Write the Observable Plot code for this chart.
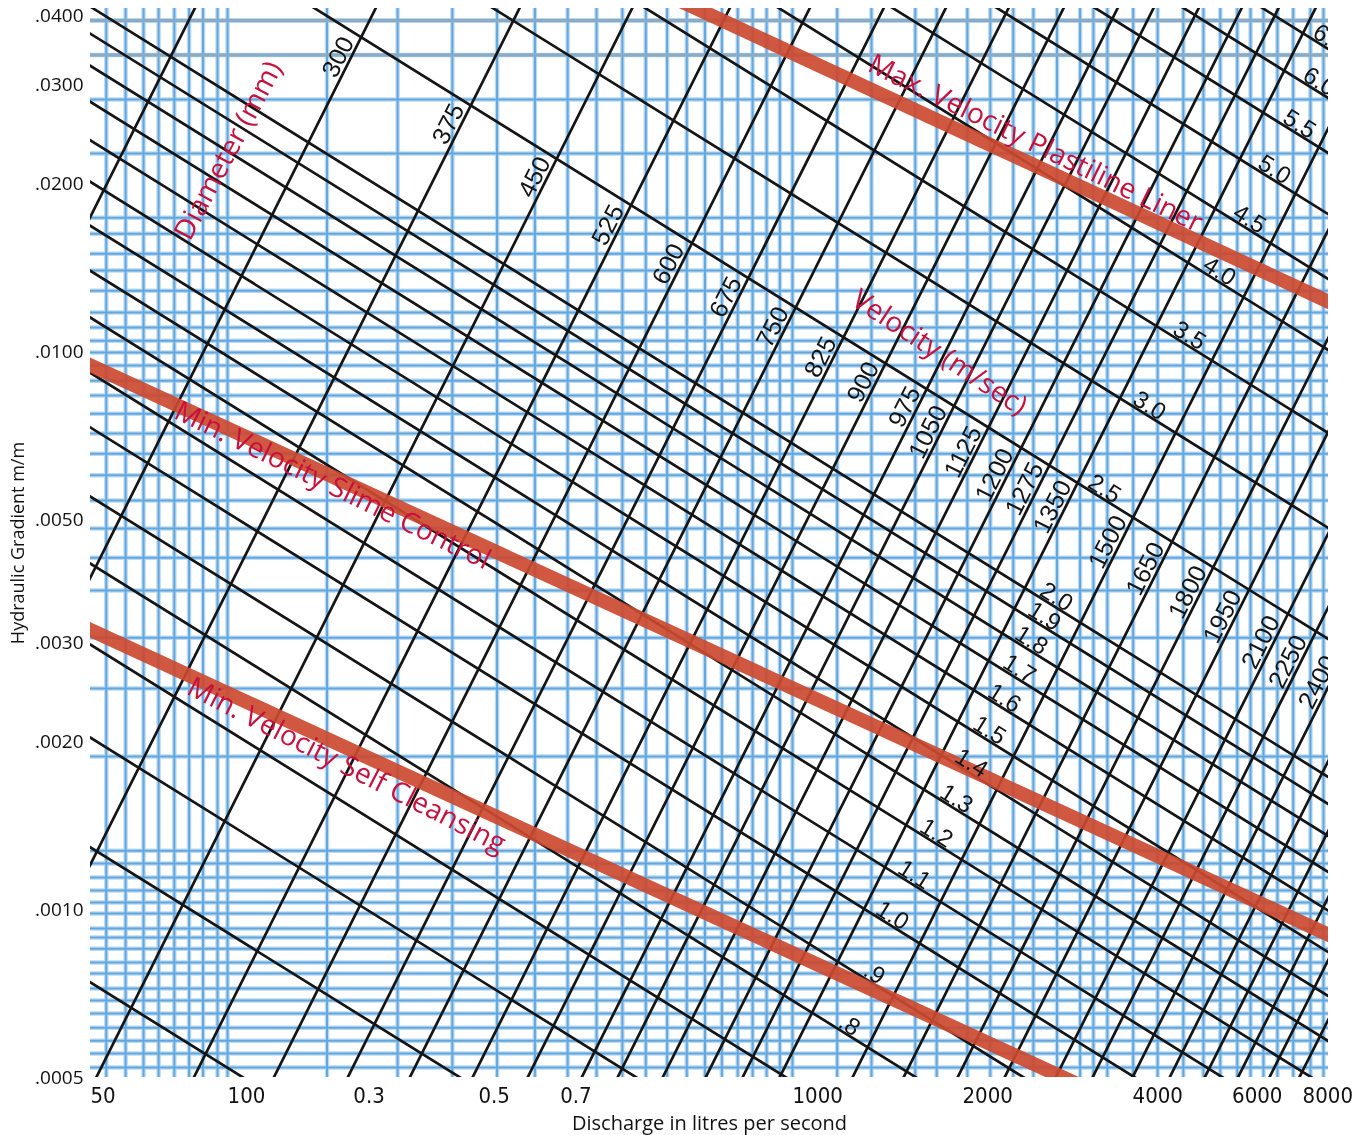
<!DOCTYPE html>
<html>
<head>
<meta charset="utf-8">
<script src="https://cdn.jsdelivr.net/npm/d3@7"></script>
<script src="https://cdn.jsdelivr.net/npm/@observablehq/plot@0.6"></script>
<style>
  html, body { margin: 0; padding: 0; background: #ffffff; }
  #chart svg { display: block; }
</style>
</head>
<body>
<div id="chart"></div>
<script>
// ---------------- Axis ticks ----------------
const xTickValues = [57.2, 100, 167, 278, 388, 1000, 2000, 4000, 6000, 8000];
const xTickLabels = ["50", "100", "0.3", "0.5", "0.7", "1000", "2000", "4000", "6000", "8000"];
const yTickValues = [0.04, 0.03, 0.02, 0.01, 0.005, 0.003, 0.002, 0.001, 0.0005];

// ---------------- Background chart-paper grid ----------------
const gridDischarge = [61, 66, 71, 75.5, 80.5, 85.5, 90.5, 96, 100,
  150, 200, 250, 300, 350, 400, 450, 500, 550, 600, 650, 700, 750, 800, 850, 900, 950, 1000,
  1200, 1380, 1650, 1800, 2040, 2240, 2460, 2670, 2940, 3230, 3410, 3610, 4010, 4430,
  4920, 5340, 5720, 6130, 6470, 6820, 7220, 7700, 8260, 8710];
const gridGradient = [0.0392, 0.0340, 0.0283, 0.02264, 0.01738, 0.01627, 0.01498, 0.01397,
  0.01286, 0.01175, 0.01104, 0.01046, 0.00996, 0.00944, 0.00887, 0.00834, 0.00774, 0.00713,
  0.00656, 0.00600, 0.00541, 0.00482, 0.00427, 0.00373, 0.00307, 0.00249, 0.00188,
  0.001275, 0.001209, 0.001141, 0.001082, 0.001029, 0.000984, 0.000925, 0.000891, 0.000851,
  0.000804, 0.000768, 0.000722, 0.000687, 0.000651, 0.000614, 0.000582, 0.000552, 0.000521];
const gridHeavyGradient = [0.0392, 0.0340];

// ---------------- Pipe diameter lines (mm) ----------------
const diameters = [225, 300, 375, 450, 525, 600, 675, 750, 825, 900, 975, 1050, 1125, 1200,
  1275, 1350, 1500, 1650, 1800, 1950, 2100, 2250, 2400, 2550, 2700, 2850, 3000, 3150];
// discharge (l/s) where each diameter line crosses a gradient of 0.01
const diameterQAt01 = [43.4, 90.7, 163, 258, 384, 532, 719, 926, 1196, 1497, 1866, 2160, 2596,
  3093, 3595, 4181, 5627, 6929, 8636, 10460, 12880, 14970, 17620, 20500, 23650, 27080, 30780, 34770];
// gradient at which each diameter is labelled (null: not labelled)
const diameterLabelS = [null, 0.03323, 0.02520, 0.02025, 0.01661, 0.01414, 0.01234, 0.01090,
  0.00963, 0.00869, 0.00784, 0.00707, 0.00651, 0.00592, 0.00559, 0.00519, 0.00449, 0.00402,
  0.00365, 0.00330, 0.00297, 0.00274, 0.00252, null, null, null, null, null];
const diameterSlope = 2.02;   // d(log S) / d(log Q) along a diameter line

// ---------------- Velocity lines (m/sec) ----------------
const velocities = [0.4, 0.5, 0.6, 0.7, 0.8, 0.9, 1.0, 1.1, 1.2, 1.3, 1.4, 1.5, 1.6, 1.7, 1.8,
  1.9, 2.0, 2.5, 3.0, 3.5, 4.0, 4.5, 5.0, 5.5, 6.0, 6.5];
// gradient of each velocity line at a discharge of 1000 l/s
const velocitySAt1000 = [1.22e-4, 2.13e-4, 3.35e-4, 4.92e-4, 6.87e-4, 9.06e-4, 1.205e-3, 1.51e-3,
  1.897e-3, 2.30e-3, 2.77e-3, 3.32e-3, 3.94e-3, 4.62e-3, 5.36e-3, 6.12e-3, 6.84e-3, 0.01209,
  0.01912, 0.02829, 0.03985, 0.0534, 0.0698, 0.0898, 0.1127, 0.138];
// discharge at which each velocity is labelled (null: not labelled)
const velocityLabelQ = [null, null, null, null, 1241, 1374, 1479, 1618, 1769, 1920, 2040, 2196,
  2334, 2481, 2605, 2748, 2886, 3509, 4215, 4961, 5608, 6337, 7015, 7769, 8427, 8779];
const velocitySlope = -0.63;  // d(log S) / d(log Q) along a velocity line

// ---------------- Design limit bands ----------------
const bandNames = ["Max. Velocity Plastiline Liner", "Min. Velocity Slime Control", "Min. Velocity Self Cleansing"];
const bandStartQ = [631, 54.9, 54.9];
const bandStartS = [0.04256, 0.00963, 0.00323];
const bandEndQ = [9524, 9524, 3233];
const bandEndS = [0.01189, 0.000873, 0.000484];

// ---------------- Annotations ----------------
const noteTexts = ["Diameter (mm)", "Velocity (m/sec)", "Max. Velocity Plastiline Liner",
  "Min. Velocity Slime Control", "Min. Velocity Self Cleansing"];
const noteQ = [100.4, 1820, 2692, 153.4, 162.4];
const noteS = [0.02292, 0.00996, 0.0236, 0.005752, 0.001812];
const noteAngle = [-62, 33.5, 26.2, 26, 27];
const noteSize = [28, 28, 28, 28, 28];

// ---------------- Build mark data ----------------
const qDomain = [57.2, 8890];
const sDomain = [0.0005, 0.0412];

const diameterLines = diameters.flatMap((d, i) =>
  [sDomain[0] / 2, sDomain[1] * 2].map(s => ({
    d, s, q: diameterQAt01[i] * Math.pow(s / 0.01, 1 / diameterSlope)
  })));
const diameterLabels = diameters.map((d, i) => ({d, s: diameterLabelS[i], i}))
  .filter(o => o.s != null)
  .map(o => ({text: String(o.d), s: o.s,
    q: diameterQAt01[o.i] * Math.pow(o.s / 0.01, 1 / diameterSlope)}));

const velocityLines = velocities.flatMap((v, i) =>
  [qDomain[0] / 2, qDomain[1] * 2].map(q => ({
    v, q, s: velocitySAt1000[i] * Math.pow(q / 1000, velocitySlope)
  })));
const fmtV = v => v < 1 ? String(v).replace(/^0/, "") : v.toFixed(1);
const velocityLabels = velocities.map((v, i) => ({v, q: velocityLabelQ[i], i}))
  .filter(o => o.q != null)
  .map(o => ({text: fmtV(o.v), q: o.q,
    s: velocitySAt1000[o.i] * Math.pow(o.q / 1000, velocitySlope)}));

const bands = bandNames.flatMap((name, i) => [
  {name, q: bandStartQ[i], s: bandStartS[i]},
  {name, q: bandEndQ[i], s: bandEndS[i]}
]);

const notes = noteTexts.map((t, i) => ({text: t, q: noteQ[i], s: noteS[i], angle: noteAngle[i], size: noteSize[i]}));
const tickLabel = new Map(xTickValues.map((v, i) => [v, xTickLabels[i]]));

const labelFont = "'Liberation Sans', Arial, sans-serif";
const axisFont = "'Open Sans', 'Noto Sans', sans-serif";
const narrowFont = "'Liberation Sans Narrow', 'DejaVu Sans Condensed', sans-serif";

const chart = Plot.plot({
  width: 1362,
  height: 1135,
  marginLeft: 90,
  marginRight: 34,
  marginTop: 8,
  marginBottom: 58,
  style: {background: "#ffffff", overflow: "visible"},
  x: {type: "log", domain: qDomain, axis: null},
  y: {type: "log", domain: sDomain, axis: null},
  marks: [
    // chart paper
    Plot.ruleX(gridDischarge, {x: d => d, stroke: "#bcdaf3", strokeWidth: 4.5}),
    Plot.ruleY(gridGradient, {y: d => d, stroke: "#bcdaf3", strokeWidth: 4.5}),
    Plot.ruleX(gridDischarge, {x: d => d, stroke: "#62a7de", strokeWidth: 2}),
    Plot.ruleY(gridGradient, {y: d => d, stroke: "#62a7de", strokeWidth: 2}),
    Plot.ruleY(gridHeavyGradient, {y: d => d, stroke: "#8aabc6", strokeWidth: 3.5}),

    // diameter and velocity families
    Plot.line(diameterLines, {x: "q", y: "s", z: "d", stroke: "#151515", strokeWidth: 2.7, clip: "frame"}),
    Plot.line(velocityLines, {x: "q", y: "s", z: "v", stroke: "#151515", strokeWidth: 2.7, clip: "frame"}),

    // design limit bands
    Plot.line(bands, {x: "q", y: "s", z: "name", stroke: "#cc4a30", strokeWidth: 14,
      strokeOpacity: 0.92, mixBlendMode: "multiply", clip: "frame"}),

    // line labels
    Plot.text(diameterLabels, {x: "q", y: "s", text: "text", rotate: -63.1, dx: -4,
      textAnchor: "middle", lineAnchor: "bottom", fontSize: 25, fontFamily: labelFont,
      fill: "#141414", clip: "frame"}),
    Plot.text(velocityLabels, {x: "q", y: "s", text: "text", rotate: 32, dy: -2,
      textAnchor: "middle", lineAnchor: "bottom", fontSize: 24, fontFamily: labelFont,
      fill: "#141414", clip: "frame"}),

    // annotations
    Plot.text(notes, {x: "q", y: "s", text: "text", rotate: "angle", fontSize: d => d.size,
      fontFamily: axisFont, fill: "#c8103c"}),

    // axes
    Plot.text(xTickValues, {x: d => d, frameAnchor: "bottom", dy: 18, text: d => tickLabel.get(d),
      textAnchor: "start", lineAnchor: "middle", fontSize: 22, fontFamily: narrowFont, fill: "#111"}),
    Plot.text(yTickValues, {y: d => d, frameAnchor: "left", dx: -7, text: d => d.toFixed(4).slice(1),
      textAnchor: "end", lineAnchor: "middle", fontSize: 19, fontFamily: axisFont, fill: "#111"}),
    Plot.text(["Discharge in litres per second"], {frameAnchor: "bottom", dy: 46,
      textAnchor: "middle", lineAnchor: "middle", fontSize: 20, fontFamily: axisFont, fill: "#111"}),
    Plot.text(["Hydraulic Gradient m/m"], {frameAnchor: "left", dx: -72, rotate: -90,
      textAnchor: "middle", lineAnchor: "middle", fontSize: 18, fontFamily: axisFont, fill: "#111"})
  ]
});

document.getElementById("chart").appendChild(chart);
</script>
</body>
</html>
